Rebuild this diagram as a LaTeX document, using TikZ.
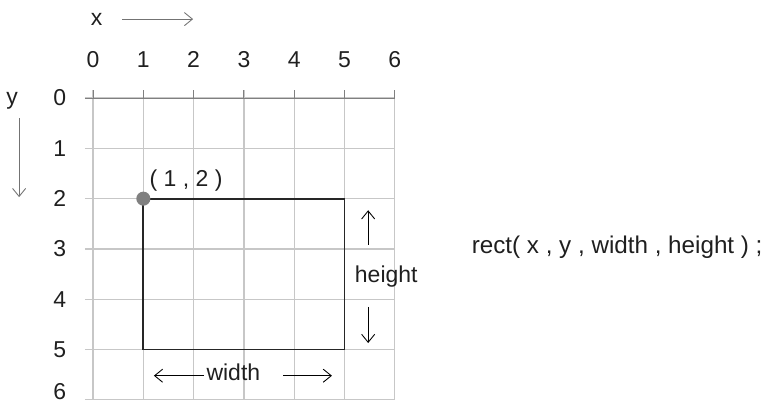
\documentclass[tikz,border=0pt]{standalone}
\usepackage{fontspec}
\setmainfont{Liberation Sans}
\usetikzlibrary{arrows.meta,positioning}

\begin{document}
\begin{tikzpicture}[
  lbl/.style={font=\fontsize{13}{15}\selectfont, text=black!88, inner sep=0pt},
  gridline/.style={black!22, line width=0.7pt},
  axisline/.style={black!50, line width=0.6pt},
  arrow/.style={-{Straight Barb[length=1.6mm, width=2.6mm]}, line width=0.5pt},
  rectline/.style={black!85, line width=1pt}
]
\useasboundingbox (-1.85,1.95) rectangle (13.36,-6.10);
\foreach \i in {0,...,6} {
  \draw[gridline] (\i,0.16) -- (\i,-6);
  \draw[gridline] (-0.16,-\i) -- (6,-\i);
  \node[lbl] (xn\i) at (\i,0.76) {\i};
}
\foreach \i in {0,...,5}
  \node[lbl] (yn\i) at (-0.66,-\i) {\i};
\node[lbl] (yn6) at (-0.66,-5.84) {6};
\draw[axisline] (-0.16,0) -- (6,0);
\foreach \i in {0,...,6}
  \draw[axisline] (\i,0.16) -- (\i,0);

\node[lbl] (xlab) at (0.07,1.57) {x};
\coordinate (xa) at (0.58,1.57);
\coordinate (xb) at (1.99,1.57);
\draw[arrow, black!55] (xa) -- (xb);
\node[lbl] (ylab) at (-1.61,-0.05) {y};
\coordinate (ya) at (-1.47,-0.40);
\coordinate (yb) at (-1.47,-1.97);
\draw[arrow, black!55] (ya) -- (yb);

\coordinate (origin) at (1,-2);
\coordinate (corner) at (5,-5);
\draw[rectline] (origin) rectangle (corner);
\fill[black!50] (origin) circle (0.14);
\node[lbl] (pt) at (1.85,-1.63) {( 1 , 2 )};

\node[lbl] (hlab) at (5.83,-3.54) {height};
\coordinate (ha) at (5.47,-2.92);
\coordinate (hb) at (5.47,-2.23);
\coordinate (hc) at (5.47,-4.15);
\coordinate (hd) at (5.47,-4.87);
\draw[arrow] (ha) -- (hb);
\draw[arrow] (hc) -- (hd);

\node[lbl] (wlab) at (2.79,-5.45) {width};
\coordinate (wa) at (2.21,-5.52);
\coordinate (wb) at (1.21,-5.52);
\coordinate (wc) at (3.78,-5.52);
\coordinate (wd) at (4.75,-5.52);
\draw[arrow] (wa) -- (wb);
\draw[arrow] (wc) -- (wd);

\node[lbl, font=\fontsize{13.7}{16}\selectfont] (code) at (10.42,-2.96) {rect( x , y , width , height ) ;};
\end{tikzpicture}
\end{document}
